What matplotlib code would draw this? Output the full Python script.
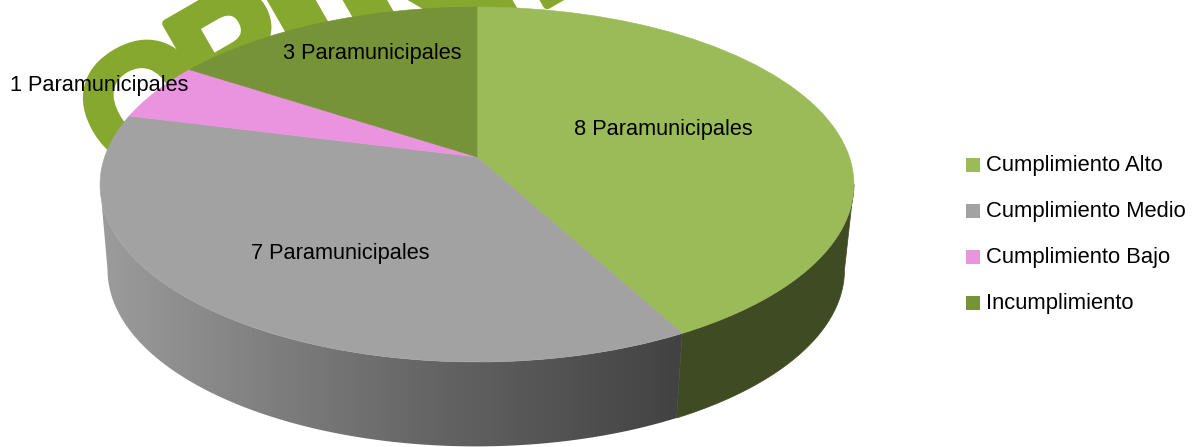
#!/usr/bin/env python3
"""
3D style pie of compliance levels for the paramunicipales.
"""

import matplotlib
matplotlib.use('Agg')
import matplotlib.patheffects as pe
import matplotlib.pyplot as plt
import numpy as np
from matplotlib.colors import LinearSegmentedColormap
from matplotlib.patches import Polygon, Rectangle
from matplotlib.transforms import Transform

categories = ['Cumplimiento Alto', 'Cumplimiento Medio', 'Cumplimiento Bajo', 'Incumplimiento']
values = [8, 7, 1, 3]
slice_labels = ['8 Paramunicipales', '7 Paramunicipales', '1 Paramunicipales', '3 Paramunicipales']
colors = ['#9bbb59', '#a2a2a2', '#ea94e0', '#779338']

plt.rcParams['font.family'] = ['Liberation Sans']


class DiscProjection(Transform):
    """Perspective view of the unit disc, in pixel coordinates."""
    input_dims = 2
    output_dims = 2

    def __init__(self, u0, v0, a, b, k):
        super().__init__()
        self.u0, self.v0, self.a, self.b, self.k = u0, v0, a, b, k

    def transform_non_affine(self, values):
        xy = np.asarray(values, dtype=float)
        w = 1 + self.k * xy[:, 1]
        return np.column_stack([self.u0 + self.a * xy[:, 0] / w,
                                (self.v0 + self.b * xy[:, 1]) / w])


k = 0.155
top_disc = DiscProjection(477, 157, 372.4, -148.9, k)
bottom_disc = DiscProjection(476, 242.6, 364, -134.6, k)

fig = plt.figure(figsize=(11.95, 4.47), dpi=100)
ax = fig.add_axes([0, 0, 1, 1])

# watermark behind the pie, the letters are taller in the original so split it up
watermark = [('O', 118.5, 180.5, 115), ('P', 212, 124, 115), ('INIÓN', 329, 131, 170)]
for txt, px, py, size in watermark:
    ax.text(px, py, txt, fontsize=size, fontweight='bold', color='#86a82e',
            rotation=30, rotation_mode='anchor', ha='left', va='baseline', zorder=1,
            clip_on=True,
            path_effects=[pe.withStroke(linewidth=6, foreground='#86a82e')])

# slice edges in degrees, clockwise from the top
edges = 90 - 360 * np.cumsum([0] + values) / sum(values)
# where the wall silhouette leaves the top face
tangent = np.degrees(np.arcsin(k))


def side_polygon(start, end):
    t = np.radians(np.linspace(start, end, 160))
    ring = np.column_stack([np.cos(t), np.sin(t)])
    top = top_disc.transform_non_affine(ring)
    bottom = bottom_disc.transform_non_affine(ring)
    return np.vstack([top, bottom[::-1]])


# side walls, drawn first so the top face covers them
green_side = Polygon(side_polygon(edges[1], -tangent), closed=True, fc='#3f4b22', ec='#3f4b22',
                     lw=0.5, zorder=2)
ax.add_patch(green_side)

grey_side = Polygon(side_polygon(-180 + tangent, edges[1]), closed=True, fc='none', ec='none', zorder=2)
ax.add_patch(grey_side)
wall_cmap = LinearSegmentedColormap.from_list(
    'wall', [(0, '#9c9c9c'), (0.3, '#7e7e7e'), (0.6, '#626262'), (1, '#424242')])
wall = ax.imshow(np.linspace(0, 1, 256).reshape(1, -1), cmap=wall_cmap, aspect='auto',
                 extent=(100, 683, 447, 150), zorder=2.1)
wall.set_clip_path(grey_side)

# top face
wedges, _ = ax.pie(values, colors=colors, startangle=90, counterclock=False, radius=1,
                   wedgeprops={'transform': top_disc + ax.transData, 'zorder': 3})
# same colour edge hides the seams between slices
for wedge, col in zip(wedges, colors):
    wedge.set_edgecolor(col)
    wedge.set_linewidth(0.4)

ax.set_xlim(0, 1195)
ax.set_ylim(447, 0)
ax.set_aspect('auto')
ax.axis('off')

# slice labels
label_pos = [(663.5, 130), (340.5, 253), (99, 85), (372.5, 54)]
for txt, (px, py) in zip(slice_labels, label_pos):
    ax.text(px, py, txt, fontsize=15.7, color='black', ha='center', va='center', zorder=5)

# legend
for i, name in enumerate(categories):
    y = 165 + i * 46
    ax.add_patch(Rectangle((966, y - 7), 14, 14, fc=colors[i], ec='none', zorder=5))
    ax.text(986, y + 1, name, fontsize=15.8, color='black', ha='left', va='center', zorder=5)

plt.savefig('out.png', dpi=100)
plt.close()
